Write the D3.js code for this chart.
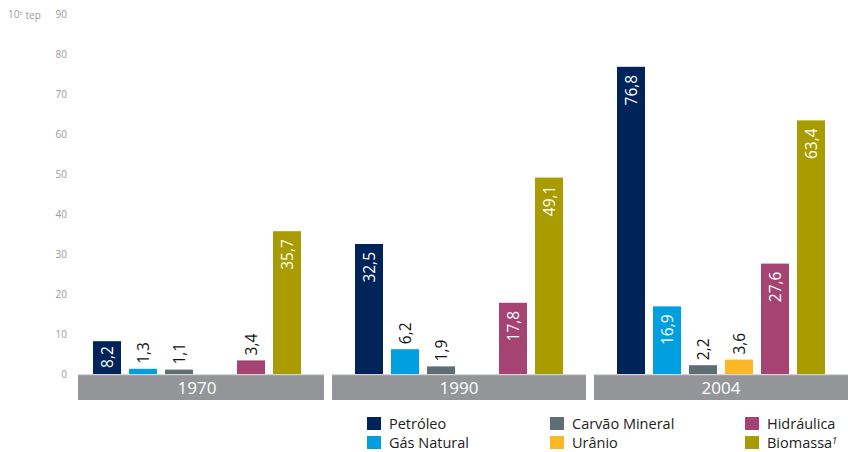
<!DOCTYPE html>
<html>
<head>
<meta charset="utf-8">
<script src="https://cdn.jsdelivr.net/npm/d3@7"></script>
<style>
  body { margin: 0; background: #fff; }
  svg { font-family: "Open Sans", sans-serif; }
</style>
</head>
<body>
<div class="main"></div>
<script>
let years = ['1970', '1990', '2004']
let sources = ['Petróleo', 'Gás Natural', 'Carvão Mineral', 'Urânio', 'Hidráulica', 'Biomassa']
let colors = ['#00245a', '#009fdf', '#5f6d77', '#fbb726', '#a54473', '#a99c00']
let values1970 = [8.2, 1.3, 1.1, null, 3.4, 35.7]
let values1990 = [32.5, 6.2, 1.9, null, 17.8, 49.1]
let values2004 = [76.8, 16.9, 2.2, 3.6, 27.6, 63.4]
let yTicks = [0, 10, 20, 30, 40, 50, 60, 70, 80, 90]

let allValues = [values1970, values1990, values2004]

let svg = d3.select('.main').append('svg')
  .attr('width', 848)
  .attr('height', 452)

let yScale = d3.scaleLinear().domain([0, 90]).range([374, 14])

let xGroup = d3.scaleBand().domain(years).range([70, 848]).paddingInner(8 / 262)

let xInner = d3.scaleBand().domain(sources).range([0, 216])
  .paddingInner(8 / 36).paddingOuter(4 / 36)

let fmt = v => String(v.toFixed(1)).replace('.', ',')

// band left edge starts after the y labels
let bandLeft = d => Math.max(xGroup(d), 78)
let bandWidth = d => xGroup(d) + xGroup.bandwidth() - bandLeft(d)

// y axis labels
svg.append('g').selectAll('text').data(yTicks).enter().append('text')
  .attr('x', 67)
  .attr('y', d => yScale(d))
  .attr('dy', '0.35em')
  .attr('text-anchor', 'end')
  .style('font-size', '10px')
  .style('fill', '#9a9a9a')
  .text(d => d)

let unit = svg.append('text')
  .attr('x', 8).attr('y', yScale(90)).attr('dy', '0.35em')
  .style('font-size', '10px').style('fill', '#9a9a9a')
unit.append('tspan').text('10')
unit.append('tspan').attr('dy', '-0.45em').style('font-size', '6px').text('6')
unit.append('tspan').attr('dy', '0.45em').text(' tep')

// year bands
let band = svg.append('g').selectAll('g').data(years).enter().append('g')
band.append('rect')
  .attr('x', bandLeft)
  .attr('y', 375)
  .attr('width', bandWidth)
  .attr('height', 25)
  .style('fill', '#939598')
band.append('rect')
  .attr('x', bandLeft)
  .attr('y', 374)
  .attr('width', bandWidth)
  .attr('height', 1.2)
  .style('fill', '#d4d5d6')
band.append('text')
  .attr('x', d => xGroup(d) + xGroup.bandwidth() / 2)
  .attr('y', 388)
  .attr('dy', '0.36em')
  .attr('text-anchor', 'middle')
  .style('font-size', '17px')
  .style('fill', '#fff')
  .text(d => d)

// bars
years.forEach((yr, gi) => {
  let x0 = xGroup(yr) + xGroup.bandwidth() / 2 - 108
  let data = sources.map((s, i) => ({s: s, v: allValues[gi][i], c: colors[i]})).filter(d => d.v != null)
  let g = svg.append('g').attr('transform', `translate(${x0}, 0)`)

  g.selectAll('rect').data(data).enter().append('rect')
    .attr('x', d => xInner(d.s))
    .attr('y', d => yScale(d.v))
    .attr('width', xInner.bandwidth())
    .attr('height', d => yScale(0) - yScale(d.v))
    .style('fill', d => d.c)

  g.selectAll('text').data(data).enter().append('text')
    .attr('transform', d => {
      let cx = xInner(d.s) + xInner.bandwidth() / 2
      let y = d.v >= 8 ? yScale(d.v) + (d.v > 10 ? 8 : 5) : yScale(d.v) - 5
      return `translate(${cx}, ${y}) rotate(-90)`
    })
    .attr('dy', '0.36em')
    .attr('text-anchor', d => d.v >= 8 ? 'end' : 'start')
    .style('font-size', '15.5px')
    .style('fill', d => d.v >= 8 ? '#fff' : '#111')
    .text(d => fmt(d.v))
})

// legend
let legendPos = [[367, 417], [367, 436], [550, 417], [550, 436], [745, 417], [745, 436]]
let legend = svg.append('g').selectAll('g').data(sources).enter().append('g')
  .attr('transform', (d, i) => `translate(${legendPos[i][0]}, ${legendPos[i][1]})`)
legend.append('rect')
  .attr('width', 14).attr('height', 13)
  .style('fill', (d, i) => colors[i])
let lt = legend.append('text')
  .attr('x', 22).attr('y', 7).attr('dy', '0.36em')
  .style('font-size', '14.5px').style('fill', '#222')
  .text(d => d)
lt.filter(d => d === 'Biomassa').append('tspan')
  .attr('dy', '-0.5em').style('font-size', '9px').style('font-style', 'italic').text('1')
</script>
</body>
</html>
